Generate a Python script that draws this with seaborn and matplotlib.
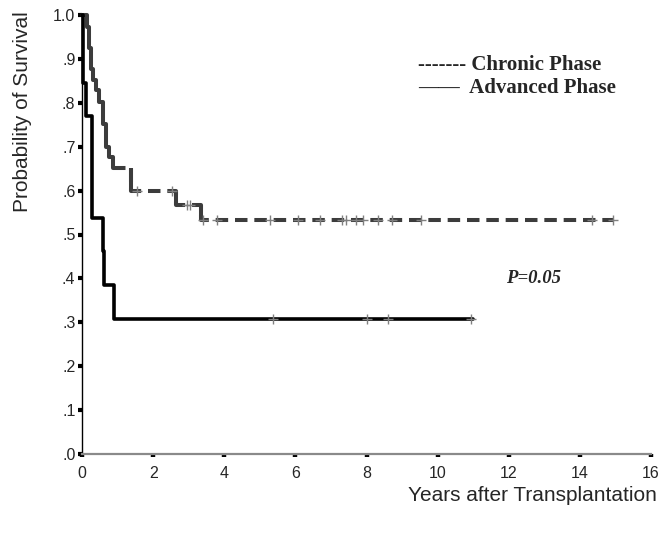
import matplotlib
matplotlib.use("Agg")
import matplotlib.pyplot as plt
import numpy as np
import pandas as pd
import seaborn as sns

# Kaplan-Meier step points (time in years, survival probability)
chronic_t = [0.0, 0.13, 0.20, 0.24, 0.32, 0.39, 0.49, 0.58, 0.67, 0.77, 0.86, 1.39, 2.63, 3.35, 14.95]
chronic_s = [1.0, 0.973, 0.924, 0.876, 0.852, 0.829, 0.802, 0.752, 0.700, 0.677, 0.651, 0.600, 0.567, 0.533, 0.533]
chronic_cens_t = [1.54, 2.52, 2.96, 3.04, 3.41, 3.79, 5.29, 6.08, 6.69, 7.30, 7.41, 7.70, 7.90, 8.32, 8.71, 9.54, 14.34, 14.92]
chronic_cens_s = [0.600, 0.600, 0.567, 0.567, 0.533, 0.533, 0.533, 0.533, 0.533, 0.533, 0.533,
                  0.533, 0.533, 0.533, 0.533, 0.533, 0.533, 0.533]

advanced_t = [0.0, 0.02, 0.11, 0.27, 0.58, 0.63, 0.91, 11.0]
advanced_s = [1.0, 0.846, 0.769, 0.538, 0.462, 0.385, 0.308, 0.308]
advanced_cens_t = [5.36, 8.02, 8.61, 10.93]
advanced_cens_s = [0.308, 0.308, 0.308, 0.308]

x_ticks = [0, 2, 4, 6, 8, 10, 12, 14, 16]
y_ticks = [1.0, 0.9, 0.8, 0.7, 0.6, 0.5, 0.4, 0.3, 0.2, 0.1, 0.0]
y_ticklabels = ["1.0", ".9", ".8", ".7", ".6", ".5", ".4", ".3", ".2", ".1", ".0"]

sns.set_style("white")
plt.rcParams["font.family"] = ["Liberation Sans", "DejaVu Sans"]

fig = plt.figure(figsize=(6.71, 5.33), dpi=100)
ax = fig.add_axes([82/671, 1-454/533, 569/671, 439/533])

chronic = pd.DataFrame({"t": chronic_t, "s": chronic_s})
advanced = pd.DataFrame({"t": advanced_t, "s": advanced_s})
n_early = 11  # dense early steps look solid in the original

chronic_col = "#3c3c3c"
# early part solid, the rest dashed (dash pattern starts at the end of the early part)
sns.lineplot(data=chronic.iloc[:n_early], x="t", y="s", ax=ax, drawstyle="steps-post",
             estimator=None, sort=False, color=chronic_col, linewidth=2.9,
             clip_on=False, zorder=3)
sns.lineplot(data=chronic.iloc[n_early - 1:], x="t", y="s", ax=ax, drawstyle="steps-post",
             estimator=None, sort=False, color=chronic_col, linewidth=2.9,
             linestyle=(0, (3.1, 1.7)), zorder=3)
# vertical drops drawn solid
ct = np.array(chronic_t)
cs = np.array(chronic_s)
ax.vlines(ct[n_early:-1], cs[n_early - 1:-2], cs[n_early:-1], color=chronic_col,
          linewidth=2.9, zorder=3)

sns.lineplot(data=advanced, x="t", y="s", ax=ax, drawstyle="steps-post",
             estimator=None, sort=False, color="black", linewidth=2.6,
             clip_on=False, zorder=4)

sns.scatterplot(x=chronic_cens_t, y=chronic_cens_s, ax=ax, marker="+", s=60,
                color="#808080", linewidth=1.0, zorder=5)
sns.scatterplot(x=advanced_cens_t, y=advanced_cens_s, ax=ax, marker="+", s=60,
                color="#808080", linewidth=1.0, zorder=5)

ax.set_xlim(0, 16)
ax.set_ylim(0, 1)
ax.set_xticks(x_ticks)
ax.set_yticks(y_ticks)
ax.set_yticklabels(y_ticklabels)

for side in ["top", "right"]:
    ax.spines[side].set_visible(False)
ax.spines["left"].set_color("black")
ax.spines["left"].set_linewidth(1.0)
ax.spines["bottom"].set_color("#8a8a8a")
ax.spines["bottom"].set_linewidth(1.6)

ax.tick_params(axis="x", direction="out", length=2, width=3.2, color="black",
               pad=6.5, labelsize=11.5, bottom=True)
ax.tick_params(axis="y", direction="out", length=3.2, width=3.0, color="black",
               pad=1.5, labelsize=11.5, left=True)

ax.set_ylabel("Probability of Survival", fontsize=15)
ax.yaxis.set_label_coords(-0.088, 0.779)
ax.set_xlabel("Years after Transplantation", fontsize=15, ha="right")
ax.xaxis.set_label_coords(1.0105, -0.072)

serif = ["Liberation Serif", "DejaVu Serif"]
fig.text(418/671, 1-69.5/533, "------- Chronic Phase", family=serif,
         fontweight="bold", fontsize=15, va="baseline", ha="left")
fig.text(418/671, 1-92.7/533, "\u2014\u2014  Advanced Phase", family=serif,
         fontweight="bold", fontsize=15, va="baseline", ha="left")
fig.text(506/671, 1-283.3/533, "P=0.05", family=serif, fontweight="bold",
         fontstyle="italic", fontsize=13.5, va="baseline", ha="left")

fig.savefig("out.png", dpi=100)
